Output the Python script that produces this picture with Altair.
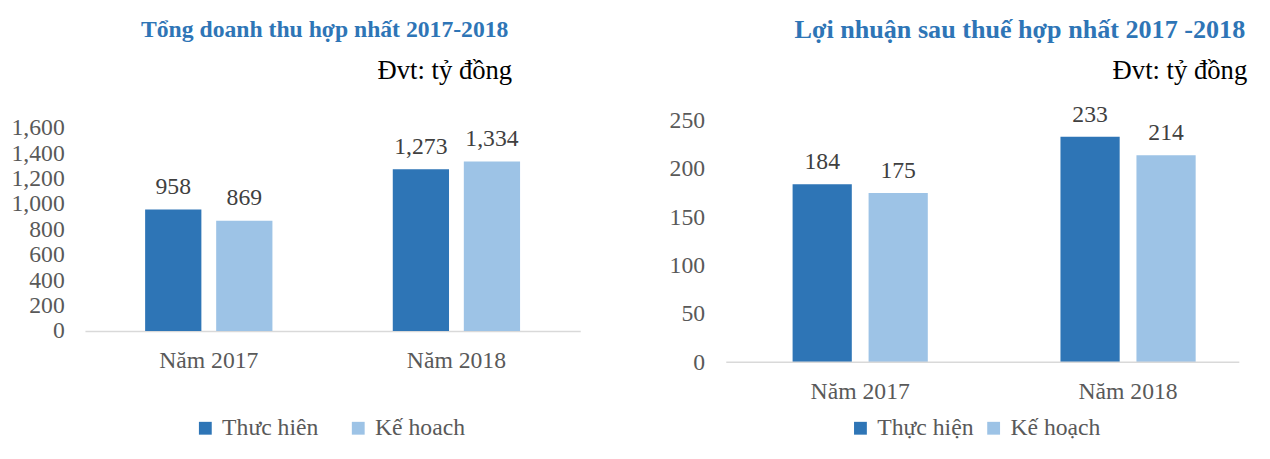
import altair as alt
import pandas as pd

years = ["Năm 2017", "Năm 2018"]

rev_series = ["Thưc hiên", "Kế hoach"]
rev_actual = [958, 1273]
rev_plan = [869, 1334]
rev_ticks = [0, 200, 400, 600, 800, 1000, 1200, 1400, 1600]

profit_series = ["Thực hiện", "Kế hoạch"]
profit_actual = [184, 233]
profit_plan = [175, 214]
profit_ticks = [0, 50, 100, 150, 200, 250]

title_rev = "Tổng doanh thu hợp nhất  2017-2018"
title_profit = "Lợi nhuận sau thuế hợp nhất 2017 -2018"
unit_text = "Đvt: tỷ đồng"

FONT = "Liberation Serif"
DARK = "#2E75B6"
LIGHT = "#9DC3E6"
AXIS_GRAY = "#595959"
LABEL_GRAY = "#404040"
LINE_GRAY = "#D9D9D9"


def frame(series, actual, plan):
    rows = []
    for i, y in enumerate(years):
        rows.append({"year": y, "series": series[0], "value": actual[i]})
        rows.append({"year": y, "series": series[1], "value": plan[i]})
    return pd.DataFrame(rows)


def panel(series, actual, plan, ticks, ymax, W, H, xrange, xo_pi, xo_po,
          label_dy, y_lab_pad, x_lab_pad, show_domain,
          title, title_size, title_x, title_align, title_y, unit_x, unit_y,
          leg_x, leg_y, col_pad):
    df = frame(series, actual, plan)
    xscale = dict(paddingInner=0, paddingOuter=0)
    if xrange is not None:
        xscale["range"] = xrange
    x = alt.X("year:N", sort=years, scale=alt.Scale(**xscale),
              axis=alt.Axis(title=None, labelAngle=0, ticks=False, domain=show_domain,
                            domainColor=LINE_GRAY, domainWidth=1.5, grid=False,
                            labelFont=FONT, labelFontSize=24, labelColor=AXIS_GRAY,
                            labelPadding=x_lab_pad))
    y = alt.Y("value:Q", scale=alt.Scale(domain=[0, ymax], nice=False, zero=True),
              axis=alt.Axis(title=None, values=ticks, format=",.0f", ticks=False, tickSize=0,
                            domain=False, grid=False, labelOverlap=False, labelFlush=False,
                            labelFont=FONT, labelFontSize=24, labelColor=AXIS_GRAY,
                            labelPadding=y_lab_pad))
    xo = alt.XOffset("series:N", sort=series,
                     scale=alt.Scale(paddingInner=xo_pi, paddingOuter=xo_po))
    color = alt.Color("series:N", sort=series,
                      scale=alt.Scale(domain=series, range=[DARK, LIGHT]),
                      legend=alt.Legend(orient="none", legendX=leg_x, legendY=leg_y,
                                        direction="horizontal", title=None,
                                        symbolType="square", symbolSize=169,
                                        symbolStrokeWidth=0, padding=0,
                                        labelFont=FONT, labelFontSize=24,
                                        labelColor=AXIS_GRAY, labelOffset=5,
                                        columnPadding=col_pad))
    base = alt.Chart(df)
    bars = base.mark_bar().encode(x=x, y=y, xOffset=xo, color=color)
    labels = base.mark_text(dy=label_dy, baseline="middle", font=FONT, fontSize=24,
                            color=LABEL_GRAY).encode(
        x=x, y=y, xOffset=xo, text=alt.Text("value:Q", format=",.0f"))
    ttl = alt.Chart(pd.DataFrame({"t": [title]})).mark_text(
        font=FONT, fontSize=title_size, fontWeight="bold", color=DARK,
        align=title_align, baseline="middle").encode(
        text="t:N", x=alt.value(title_x), y=alt.value(title_y))
    unit = alt.Chart(pd.DataFrame({"t": [unit_text]})).mark_text(
        font=FONT, fontSize=27, color="#000000",
        align="right", baseline="middle").encode(
        text="t:N", x=alt.value(unit_x), y=alt.value(unit_y))
    layers = [bars, labels, ttl, unit]
    if not show_domain:
        rule = alt.Chart(pd.DataFrame({"z": [0]})).mark_rule(
            color=LINE_GRAY, strokeWidth=1.5).encode(
            y=alt.Y("z:Q", scale=alt.Scale(domain=[0, ymax], nice=False)),
            x=alt.value(0), x2=alt.value(W))
        layers.append(rule)
    return alt.layer(*layers).properties(width=W, height=H)


# both plot areas start at the same top; the revenue scale reaches a bit above 1,600
rev_top = 1600 * 213.5 / 206

left = panel(rev_series, rev_actual, rev_plan, rev_ticks, rev_top, 502, 213.5, None,
             0.2083, 0.847, -23, 21, 18, True,
             title_rev, 24, 243, "center", -91.5, 433, -49.5,
             110, 300, 28)

right = panel(profit_series, profit_actual, profit_plan, profit_ticks, 250, 520, 245,
              [0, 543], 0.2208, 0.873, -22, 22, 18, False,
              title_profit, 26.5, 526, "right", -91.5, 528, -49.5,
              124, 300, 8)

chart = alt.hconcat(left, right, spacing=90).resolve_scale(
    x="independent", y="independent", color="independent", xOffset="independent"
).resolve_legend(color="independent").configure_view(stroke=None).properties(
    padding={"left": 3, "top": 6, "right": 0, "bottom": 0}, background="white"
)

chart.save("out.html", embed_options={"renderer": "svg", "actions": False})
